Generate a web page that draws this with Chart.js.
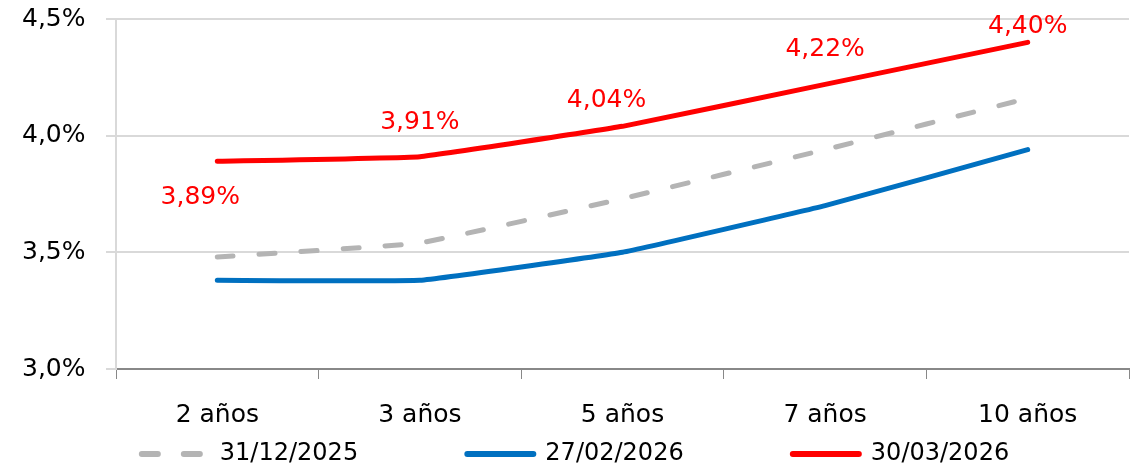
<!DOCTYPE html>
<html>
<head>
<meta charset="utf-8">
<script src="https://cdn.jsdelivr.net/npm/chart.js@4.4.1/dist/chart.umd.min.js"></script>
<style>
  html, body { margin: 0; padding: 0; background: #fff; }
  #wrap { width: 1143px; height: 466px; }
</style>
</head>
<body>
<div id="wrap"><canvas id="chart"></canvas></div>
<script>
// Plazos y curvas (%)
const plazos = ['2 años', '3 años', '5 años', '7 años', '10 años'];
const fechas = ['31/12/2025', '27/02/2026', '30/03/2026'];
const curvaDic = [3.48, 3.54, 3.73, 3.94, 4.16];
const curvaFeb = [3.38, 3.38, 3.50, 3.70, 3.94];
const curvaMar = [3.89, 3.91, 4.04, 4.22, 4.40];
const yTicks = [3.0, 3.5, 4.0, 4.5];

// desplazamiento de las etiquetas de la curva roja (px)
const labelOffsets = [[-17, 36], [0, -34], [-16, -26], [0, -35], [0, -16]];

const FONT = 'DejaVu Sans';
const fmt = (v, d) => v.toFixed(d).replace('.', ',') + '%';
const legendGap = ' '.repeat(13);

const etiquetasRojas = {
  id: 'etiquetasRojas',
  afterDatasetsDraw(chart) {
    const ctx = chart.ctx;
    const meta = chart.getDatasetMeta(2);
    ctx.save();
    ctx.font = '25px "' + FONT + '"';
    ctx.fillStyle = '#ff0000';
    ctx.textAlign = 'center';
    ctx.textBaseline = 'middle';
    meta.data.forEach((pt, i) => {
      const [dx, dy] = labelOffsets[i];
      ctx.fillText(fmt(curvaMar[i], 2), pt.x + dx, pt.y + dy);
    });
    ctx.restore();
  }
};

new Chart(document.getElementById('chart').getContext('2d'), {
  type: 'line',
  data: {
    labels: plazos,
    datasets: [
      {
        label: fechas[0],
        data: curvaDic,
        borderColor: '#b4b4b4',
        backgroundColor: '#b4b4b4',
        borderWidth: 5,
        borderDash: [16, 26],
        borderCapStyle: 'round',
        pointRadius: 0,
        tension: 0.08
      },
      {
        label: fechas[1],
        data: curvaFeb,
        borderColor: '#0070c0',
        backgroundColor: '#0070c0',
        borderWidth: 5,
        borderCapStyle: 'round',
        pointRadius: 0,
        tension: 0.08
      },
      {
        label: fechas[2],
        data: curvaMar,
        borderColor: '#ff0000',
        backgroundColor: '#ff0000',
        borderWidth: 5,
        borderCapStyle: 'round',
        pointRadius: 0,
        tension: 0.08
      }
    ]
  },
  options: {
    responsive: true,
    maintainAspectRatio: false,
    animation: false,
    layout: { padding: { left: 22, right: 14, top: 0, bottom: -10 } },
    scales: {
      x: {
        offset: true,
        afterFit(scale) { scale.height = 63; },
        grid: {
          offset: true,
          drawOnChartArea: false,
          drawTicks: true,
          tickLength: 10,
          color: '#888888'
        },
        border: { color: '#888888', width: 2 },
        ticks: {
          color: '#000',
          padding: 21,
          font: { family: FONT, size: 25 }
        }
      },
      y: {
        min: yTicks[0],
        max: yTicks[yTicks.length - 1],
        afterBuildTicks(axis) {
          axis.ticks = yTicks.map(v => ({ value: v }));
        },
        afterFit(scale) { scale.width = 94; },
        grid: {
          color: '#d9d9d9',
          lineWidth: 2,
          tickLength: 10
        },
        border: { color: '#d9d9d9', width: 2 },
        ticks: {
          color: '#000',
          padding: 4,
          crossAlign: 'far',
          font: { family: FONT, size: 25 },
          callback: v => fmt(v, 1)
        }
      }
    },
    plugins: {
      tooltip: { enabled: false },
      legend: {
        position: 'bottom',
        labels: {
          usePointStyle: true,
          pointStyle: 'line',
          pointStyleWidth: 66,
          padding: 10,
          color: '#000',
          font: { family: FONT, size: 24 },
          generateLabels(chart) {
            const n = chart.data.datasets.length;
            return chart.data.datasets.map((ds, i) => ({
              text: ds.label + (i < n - 1 ? legendGap : ''),
              fillStyle: ds.borderColor,
              strokeStyle: ds.borderColor,
              lineWidth: 6,
              lineDash: ds.borderDash || [],
              lineCap: 'round',
              pointStyle: 'line',
              hidden: false,
              datasetIndex: i
            }));
          }
        }
      }
    }
  },
  plugins: [etiquetasRojas]
});
</script>
</body>
</html>
